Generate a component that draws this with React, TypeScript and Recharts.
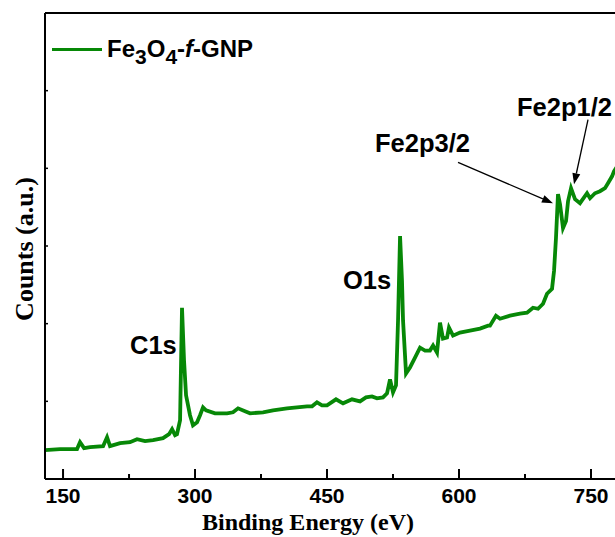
import { Legend, Line, LineChart, ReferenceDot, ReferenceLine, XAxis, YAxis, Label } from "recharts";

// binding energy (eV)
const energies = [
  129.5, 146.6, 165.9, 169.3, 173.9, 180.7, 195.5, 200.0, 203.4, 214.8,
  226.1, 234.1, 243.2, 252.3, 263.6, 270.5, 273.9, 277.3, 279.5, 283.0,
  285.2, 287.5, 289.8, 294.3, 297.7, 302.3, 305.7, 309.1, 312.5, 322.7,
  336.4, 343.2, 348.9, 356.8, 362.5, 377.3, 388.6, 396.6, 404.5, 415.9,
  427.3, 433.0, 438.6, 444.3, 450.0, 460.2, 468.2, 478.4, 487.5, 494.3,
  501.1, 506.8, 513.6, 518.2, 521.6, 525.0, 528.4, 530.7, 533.0, 535.2,
  536.4, 539.8, 544.3, 550.0, 555.7, 561.4, 567.0, 570.5, 575.0, 578.4,
  581.8, 586.4, 588.6, 593.2, 601.1, 612.5, 623.9, 633.0, 635.2, 642.0,
  646.6, 658.0, 669.3, 677.3, 684.1, 689.8, 695.5, 700.0, 705.7, 708.0,
  710.2, 712.5, 714.8, 718.2, 721.6, 723.9, 727.3, 731.8, 737.5, 745.5,
  748.9, 754.5, 760.2, 765.9, 769.3, 773.9, 776.1, 780.0,
];

// counts, arbitrary units
const counts = [
  3.72, 3.85, 3.85, 4.74, 3.97, 4.1, 4.23, 5.38, 4.23, 4.62,
  4.74, 5.13, 4.87, 5.0, 5.26, 5.77, 6.41, 5.64, 5.77, 7.56,
  22.05, 15.26, 10.77, 8.21, 6.92, 7.31, 8.21, 9.23, 8.85, 8.46,
  8.46, 8.59, 9.1, 8.72, 8.46, 8.59, 8.85, 8.97, 9.1, 9.23,
  9.36, 9.36, 9.87, 9.49, 9.49, 10.26, 9.74, 10.26, 10.0, 10.51,
  10.64, 10.38, 10.51, 11.03, 12.82, 11.15, 12.05, 20.38, 31.28, 25.51,
  20.38, 13.59, 14.36, 15.64, 16.92, 16.54, 16.54, 17.18, 16.28, 20.13,
  18.08, 18.21, 19.49, 18.46, 18.85, 19.1, 19.36, 19.74, 19.74, 21.03,
  20.64, 21.03, 21.28, 21.41, 22.05, 21.92, 22.56, 23.85, 24.49, 26.79,
  31.03, 36.67, 35.38, 32.31, 33.21, 35.77, 37.44, 36.03, 35.51, 36.79,
  36.15, 36.79, 37.05, 37.44, 38.08, 38.97, 39.62, 40.3,
];

const majorTicks = [150, 300, 450, 600, 750];
const xTicks = [150, 225, 300, 375, 450, 525, 600, 675, 750];
const yTicks = [10, 20, 30, 40, 50];

// peak labels: [text, energy, counts] (left edge of text, cap middle)
const peakLabels: [string, number, number][] = [
  ["C1s", 226.1, 17.31],
  ["O1s", 468.2, 25.64],
  ["Fe2p3/2", 504.5, 43.21],
  ["Fe2p1/2", 665.9, 47.88],
];

// arrows: [fromE, fromC, toE, toC]
const arrows: [number, number, number, number][] = [
  [598.9, 40.77, 706.8, 35.51],
  [746.6, 46.28, 730.7, 37.95],
];

const data = energies.map((e, i) => ({ e, v: counts[i] }));

const GREEN = "#078807";
const SANS = '"Liberation Sans", Arial, sans-serif';
const SERIF = '"Liberation Serif", "Times New Roman", serif';

function BottomTick(props: any) {
  const { x, y, payload } = props;
  const major = majorTicks.includes(payload.value);
  return (
    <g>
      <line x1={x} x2={x} y1={y} y2={y - (major ? 10 : 5)} stroke="#000" strokeWidth={2} />
      {major ? (
        <text x={x} y={y + 24} textAnchor="middle" fontFamily={SANS} fontWeight="bold" fontSize={21} fill="#000">
          {payload.value}
        </text>
      ) : null}
    </g>
  );
}

function TopTick(props: any) {
  const { x, y } = props;
  return <line x1={x} x2={x} y1={y} y2={y + 3} stroke="#000" strokeWidth={1.5} />;
}

function LeftTick(props: any) {
  const { x, y } = props;
  return <line x1={x} x2={x + 3} y1={y} y2={y} stroke="#000" strokeWidth={1.5} />;
}

function Arrow(props: any) {
  const { x1, y1, x2, y2 } = props;
  const a = Math.atan2(y2 - y1, x2 - x1);
  const c = Math.cos(a);
  const s = Math.sin(a);
  const bx = x2 - 11 * c;
  const by = y2 - 11 * s;
  const pts = `${x2},${y2} ${bx - 4 * s},${by + 4 * c} ${bx + 4 * s},${by - 4 * c}`;
  return (
    <g>
      <line x1={x1} y1={y1} x2={bx} y2={by} stroke="#000" strokeWidth={1.3} />
      <polygon points={pts} fill="#000" />
    </g>
  );
}

function peakText(text: string) {
  return (props: any) => {
    const { viewBox } = props;
    return (
      <text x={viewBox.x} y={viewBox.y + 9} fontFamily={SANS} fontWeight="bold" fontSize={25.5} fill="#000">
        {text}
      </text>
    );
  };
}

function XTitle(props: any) {
  const { viewBox } = props;
  return (
    <text x={308} y={viewBox.y + 51} textAnchor="middle" fontFamily={SERIF} fontWeight="bold" fontSize={24} fill="#000">
      Binding Energy (eV)
    </text>
  );
}

function YTitle(props: any) {
  const { viewBox } = props;
  const x = viewBox.x + viewBox.width - 12;
  const y = viewBox.y + viewBox.height / 2 + 3;
  return (
    <text x={x} y={y} transform={`rotate(-90, ${x}, ${y})`} textAnchor="middle" fontFamily={SERIF} fontWeight="bold" fontSize={26} fill="#000">
      Counts (a.u.)
    </text>
  );
}

function LegendBox() {
  return (
    <div style={{ position: "relative", width: 320, height: 70 }}>
      <div style={{ position: "absolute", left: 52, top: 47.5, width: 50, height: 3, background: GREEN }} />
      <div
        style={{
          position: "absolute",
          left: 107,
          top: 36.5,
          fontFamily: SANS,
          fontWeight: "bold",
          fontSize: 24,
          lineHeight: "24px",
          color: "#000",
          whiteSpace: "nowrap",
        }}
      >
        Fe<span style={{ fontSize: 21, verticalAlign: "-0.35em" }}>3</span>O
        <span style={{ fontSize: 21, verticalAlign: "-0.35em" }}>4</span>-<i>f</i>-GNP
      </div>
    </div>
  );
}

export default function App() {
  return (
    <div style={{ position: "fixed", left: 0, top: 0, width: 615, height: 537, overflow: "hidden", background: "#fff" }}>
      <LineChart width={650} height={537} data={data} margin={{ top: 12, right: 32.6, left: 44, bottom: 0 }}>
        <XAxis
          dataKey="e"
          type="number"
          domain={[129.5, 780]}
          allowDataOverflow
          ticks={xTicks}
          interval={0}
          tickSize={0}
          tickMargin={0}
          tickLine={false}
          tick={<BottomTick />}
          height={58}
          axisLine={{ stroke: "#000", strokeWidth: 2 }}
        >
          <Label content={XTitle} />
        </XAxis>
        <XAxis
          xAxisId="top"
          orientation="top"
          type="number"
          domain={[129.5, 780]}
          allowDataOverflow
          ticks={xTicks}
          interval={0}
          tickSize={0}
          tickMargin={0}
          tickLine={false}
          tick={<TopTick />}
          height={1}
          axisLine={{ stroke: "#000", strokeWidth: 2 }}
        />
        <YAxis
          type="number"
          domain={[0, 60]}
          allowDataOverflow
          ticks={yTicks}
          interval={0}
          width={1}
          tickSize={0}
          tickMargin={0}
          tickLine={false}
          tick={<LeftTick />}
          axisLine={{ stroke: "#000", strokeWidth: 2 }}
        >
          <Label content={YTitle} />
        </YAxis>
        <Legend
          layout="horizontal"
          verticalAlign="middle"
          align="center"
          content={() => <LegendBox />}
          wrapperStyle={{ left: 0, top: 0, width: 320, height: 70 }}
        />
        <Line
          type="linear"
          dataKey="v"
          name="Fe3O4-f-GNP"
          stroke={GREEN}
          strokeWidth={3.8}
          dot={false}
          isAnimationActive={false}
        />
        {arrows.map(([fx, fy, tx, ty], i) => (
          <ReferenceLine
            key={`a${i}`}
            segment={[{ x: fx, y: fy }, { x: tx, y: ty }]}
            ifOverflow="visible"
            shape={Arrow}
          />
        ))}
        {peakLabels.map(([t, e, c]) => (
          <ReferenceDot key={t} x={e} y={c} r={0} ifOverflow="visible" label={peakText(t)} />
        ))}
      </LineChart>
    </div>
  );
}
